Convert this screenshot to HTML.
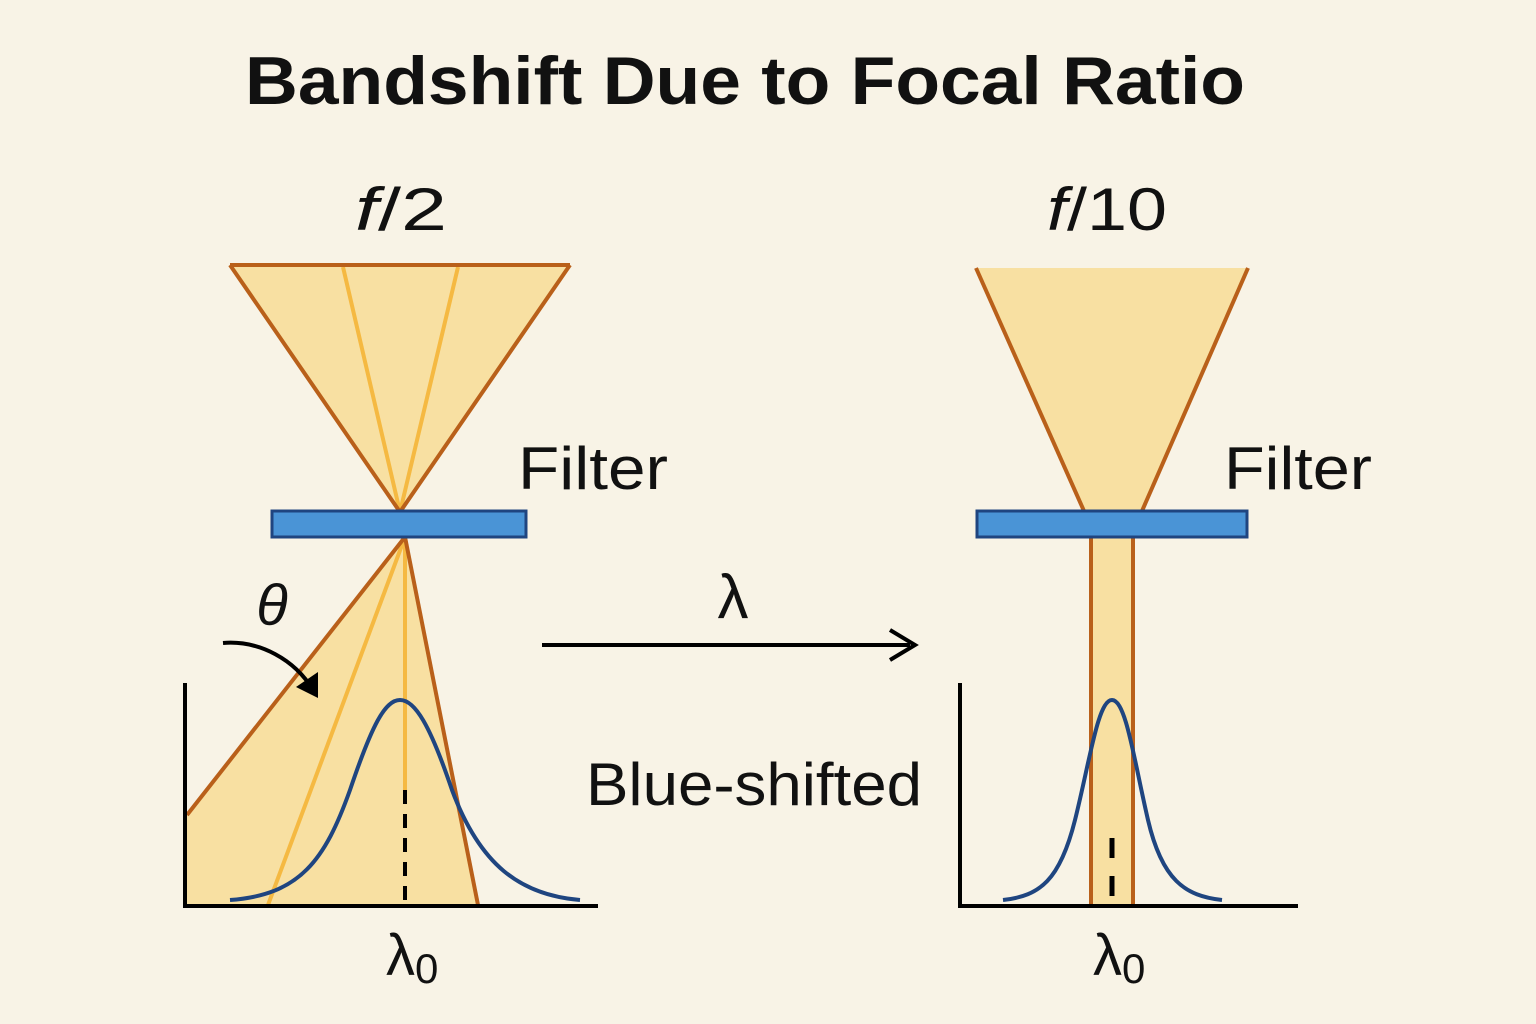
<!DOCTYPE html>
<html><head><meta charset="utf-8"><style>
html,body{margin:0;padding:0;background:#f8f3e6;}
svg{display:block;}
text{font-family:"Liberation Sans","DejaVu Sans",sans-serif;fill:#111;}
</style></head><body>
<svg width="1536" height="1024" viewBox="0 0 1536 1024" xmlns="http://www.w3.org/2000/svg">
<rect width="1536" height="1024" fill="#f8f3e6"/>
<text x="245" y="104" font-size="68" font-weight="bold" textLength="1000" lengthAdjust="spacingAndGlyphs">Bandshift Due to Focal Ratio</text>
<text x="355" y="230" font-size="60" textLength="92" lengthAdjust="spacingAndGlyphs"><tspan font-style="italic">f</tspan>/2</text>
<text x="1047" y="230" font-size="60" textLength="120" lengthAdjust="spacingAndGlyphs"><tspan font-style="italic">f</tspan>/10</text>

<polygon points="230,265 570,265 400,512" fill="#f8e0a2"/>
<line x1="343" y1="267" x2="400" y2="512" stroke="#f5b942" stroke-width="4"/>
<line x1="458" y1="267" x2="400" y2="512" stroke="#f5b942" stroke-width="4"/>
<polyline points="230,265 400,512 570,265" fill="none" stroke="#b9601a" stroke-width="4"/>
<line x1="230" y1="265" x2="570" y2="265" stroke="#b9601a" stroke-width="4"/>

<polygon points="405,537 187,815 187,905 478,905" fill="#f8e0a2"/>
<line x1="405" y1="537" x2="268" y2="905" stroke="#f5b942" stroke-width="4"/>
<line x1="405" y1="537" x2="405" y2="790" stroke="#f5b942" stroke-width="4"/>
<line x1="405" y1="537" x2="187" y2="815" stroke="#b9601a" stroke-width="4"/>
<line x1="405" y1="537" x2="478" y2="905" stroke="#b9601a" stroke-width="4"/>

<rect x="272" y="511" width="254" height="26" fill="#4a94d6" stroke="#1f4580" stroke-width="3"/>
<text x="518" y="489" font-size="60" textLength="150" lengthAdjust="spacingAndGlyphs">Filter</text>

<line x1="185" y1="683" x2="185" y2="908" stroke="#000" stroke-width="4"/>
<line x1="183" y1="906" x2="598" y2="906" stroke="#000" stroke-width="4"/>
<path d="M230,900 C300,895 325,860 350,790 C372,725 385,700 400,700 C415,700 430,725 452,790 C480,865 520,895 580,900" fill="none" stroke="#1f4580" stroke-width="4"/>
<line x1="405" y1="790" x2="405" y2="905" stroke="#000" stroke-width="4" stroke-dasharray="14,10"/>
<text x="386" y="975" font-size="58">λ<tspan font-size="42" dy="8">0</tspan></text>

<text x="272" y="625" font-size="58" font-style="italic" text-anchor="middle" font-family="Liberation Serif,serif">θ</text>
<path d="M223,643 C260,640 295,660 313,690" fill="none" stroke="#000" stroke-width="4"/>
<polygon points="318,698 296,687 318,672" fill="#000"/>

<line x1="542" y1="645" x2="910" y2="645" stroke="#000" stroke-width="4"/>
<polyline points="890,630 915,645 890,660" fill="none" stroke="#000" stroke-width="4"/>
<text x="733" y="618" font-size="62" text-anchor="middle">λ</text>
<text x="586" y="805" font-size="60" textLength="336" lengthAdjust="spacingAndGlyphs">Blue-shifted</text>

<polygon points="976,268 1248,268 1142,511 1084,511" fill="#f8e0a2"/>
<line x1="976" y1="268" x2="1084" y2="511" stroke="#b9601a" stroke-width="4"/>
<line x1="1248" y1="268" x2="1142" y2="511" stroke="#b9601a" stroke-width="4"/>
<rect x="1090" y="537" width="44" height="368" fill="#f8e0a2"/>
<line x1="1091" y1="537" x2="1091" y2="905" stroke="#b9601a" stroke-width="4"/>
<line x1="1133" y1="537" x2="1133" y2="905" stroke="#b9601a" stroke-width="4"/>
<rect x="977" y="511" width="270" height="26" fill="#4a94d6" stroke="#1f4580" stroke-width="3"/>
<text x="1224" y="489" font-size="60" textLength="148" lengthAdjust="spacingAndGlyphs">Filter</text>

<line x1="960" y1="683" x2="960" y2="908" stroke="#000" stroke-width="4"/>
<line x1="958" y1="906" x2="1298" y2="906" stroke="#000" stroke-width="4"/>
<path d="M1003,900 C1040,896 1060,880 1075,820 C1090,760 1098,700 1112,700 C1126,700 1134,760 1148,820 C1162,880 1185,896 1222,900" fill="none" stroke="#1f4580" stroke-width="4"/>
<line x1="1112" y1="838" x2="1112" y2="900" stroke="#000" stroke-width="5" stroke-dasharray="20,18"/>
<text x="1093" y="975" font-size="58">λ<tspan font-size="42" dy="8">0</tspan></text>
</svg>
</body></html>
